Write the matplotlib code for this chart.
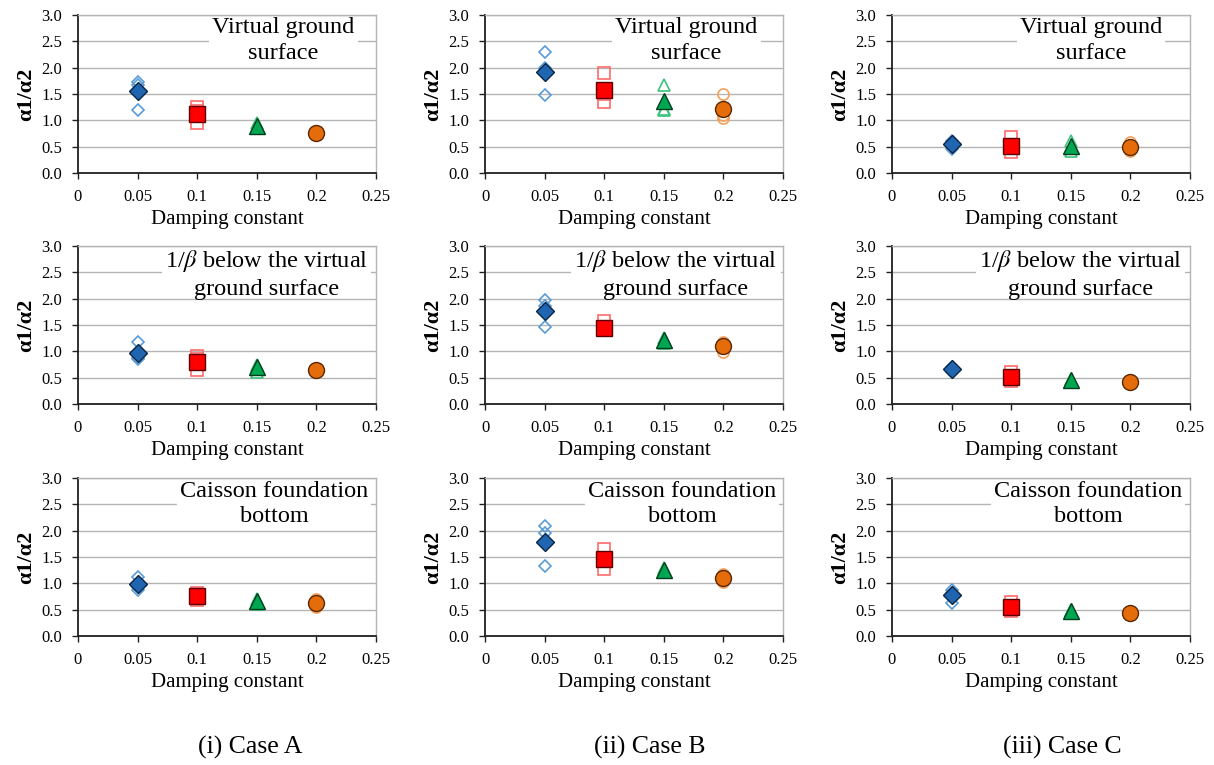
import matplotlib
matplotlib.use("Agg")
import matplotlib.pyplot as plt
from matplotlib.patches import Rectangle

plt.rcParams['font.family'] = ['Liberation Serif', 'DejaVu Serif']
plt.rcParams['mathtext.fontset'] = 'stix'

# ---------------- data ----------------
damping = [0.05, 0.10, 0.15, 0.20]
case_labels = ["(i) Case A", "(ii) Case B", "(iii) Case C"]
position_labels = ["Virtual ground\nsurface",
                   "1/$\\beta$ below the virtual\nground surface",
                   "Caisson foundation\nbottom"]
x_ticks = [0, 0.05, 0.1, 0.15, 0.2, 0.25]
x_tick_labels = ["0", "0.05", "0.1", "0.15", "0.2", "0.25"]
y_ticks = [0.0, 0.5, 1.0, 1.5, 2.0, 2.5, 3.0]

# mean values (filled markers)
mean_A_vgs = [1.55, 1.12, 0.90, 0.76]
mean_B_vgs = [1.92, 1.58, 1.37, 1.22]
mean_C_vgs = [0.56, 0.52, 0.51, 0.50]
mean_A_beta = [0.97, 0.80, 0.70, 0.64]
mean_B_beta = [1.77, 1.45, 1.22, 1.10]
mean_C_beta = [0.66, 0.51, 0.45, 0.41]
mean_A_bot = [0.98, 0.76, 0.66, 0.62]
mean_B_bot = [1.79, 1.46, 1.26, 1.11]
mean_C_bot = [0.78, 0.56, 0.48, 0.43]

# individual values (hollow markers)
ind_A_vgs = [[1.72, 1.68, 1.20], [1.25, 1.18, 0.95], [0.94, 0.90, 0.86], [0.80, 0.76, 0.72]]
ind_B_vgs = [[2.30, 2.00, 1.48], [1.90, 1.50, 1.35], [1.68, 1.22, 1.20], [1.50, 1.10, 1.04]]
ind_C_vgs = [[0.60, 0.58, 0.45], [0.68, 0.50, 0.40], [0.60, 0.50, 0.42], [0.58, 0.50, 0.42]]
ind_A_beta = [[1.18, 0.88, 0.85], [0.92, 0.85, 0.65], [0.75, 0.70, 0.60], [0.68, 0.63, 0.60]]
ind_B_beta = [[1.98, 1.87, 1.47], [1.58, 1.42, 1.40], [1.25, 1.20, 1.15], [1.18, 1.12, 0.99]]
ind_C_beta = [[0.70, 0.65, 0.60], [0.60, 0.50, 0.43], [0.48, 0.44, 0.42], [0.45, 0.40, 0.38]]
ind_A_bot = [[1.12, 0.93, 0.88], [0.82, 0.76, 0.68], [0.70, 0.65, 0.60], [0.70, 0.60, 0.55]]
ind_B_bot = [[2.08, 1.95, 1.33], [1.65, 1.45, 1.27], [1.30, 1.25, 1.22], [1.17, 1.10, 1.02]]
ind_C_bot = [[0.88, 0.82, 0.62], [0.65, 0.55, 0.47], [0.50, 0.48, 0.45], [0.46, 0.43, 0.40]]

means = [[mean_A_vgs, mean_B_vgs, mean_C_vgs],
         [mean_A_beta, mean_B_beta, mean_C_beta],
         [mean_A_bot, mean_B_bot, mean_C_bot]]
inds = [[ind_A_vgs, ind_B_vgs, ind_C_vgs],
        [ind_A_beta, ind_B_beta, ind_C_beta],
        [ind_A_bot, ind_B_bot, ind_C_bot]]

# ---------------- styles ----------------
markers = ['D', 's', '^', 'o']
fill_cols = ['#1F65B0', '#FF0000', '#00A651', '#E46C0A']
edge_cols = ['#0B2545', '#5A0000', '#003D1C', '#5A2800']
hollow_cols = ['#5B9BD5', '#FF6B6B', '#3CC47C', '#F5A05A']
filled_ms = [9.2, 11.5, 12, 11.5]
hollow_ms = [6, 8.5, 8, 8]

W, H = 1214, 765
fig = plt.figure(figsize=(W / 100, H / 100), dpi=100)

col_left = [78, 485, 892]
row_top = [15, 246, 478]
ax_w, ax_h = 298, 158
text_x = [[0.69, 0.676, 0.669], [0.634, 0.641, 0.634], [0.658, 0.661, 0.658]]
text_y = [0.839, 0.825, 0.835]

texts = []
for r in range(3):
    for c in range(3):
        ax = fig.add_axes([col_left[c] / W, (H - row_top[r] - ax_h) / H, ax_w / W, ax_h / H])
        ax.set_xlim(0, 0.25)
        ax.set_ylim(0, 3.0)
        ax.set_xticks(x_ticks)
        ax.set_xticklabels(x_tick_labels)
        ax.set_yticks(y_ticks)
        ax.set_yticklabels([f"{v:.1f}" for v in y_ticks])
        ax.yaxis.grid(True, color='#B4B4B4', linewidth=1.0)
        ax.set_axisbelow(True)
        for s in ['top', 'right']:
            ax.spines[s].set_color('#B4B4B4')
            ax.spines[s].set_linewidth(1.0)
        for s in ['left', 'bottom']:
            ax.spines[s].set_color('#202020')
            ax.spines[s].set_linewidth(1.3)
        ax.tick_params(axis='both', labelsize=12, length=4.3, width=1, color='#202020',
                       direction='out')
        ax.tick_params(axis='y', pad=7)
        ax.tick_params(axis='x', pad=7)
        ax.set_xlabel("Damping constant", fontsize=15, labelpad=3.5)
        ax.set_ylabel("α1/α2", fontsize=16, fontweight='bold', labelpad=4)

        for k in range(4):
            vals = inds[r][c][k]
            ax.plot([damping[k]] * len(vals), vals, linestyle='none', marker=markers[k],
                    markersize=hollow_ms[k], markerfacecolor='none',
                    markeredgecolor=hollow_cols[k], markeredgewidth=1.2, zorder=3)
        for k in range(4):
            ax.plot(damping[k], means[r][c][k], linestyle='none', marker=markers[k],
                    markersize=filled_ms[k], markerfacecolor=fill_cols[k],
                    markeredgecolor=edge_cols[k], markeredgewidth=1.0, zorder=4)

        t = ax.text(text_x[r][c], text_y[r], position_labels[r], transform=ax.transAxes,
                    ha='center', va='center', multialignment='center', fontsize=17.5,
                    linespacing=1.3, zorder=5)
        texts.append((ax, t))

# white background behind each annotation (hides the gridline crossing it)
fig.canvas.draw()
renderer = fig.canvas.get_renderer()
for ax, t in texts:
    bb = t.get_window_extent(renderer)
    inv = ax.transAxes.inverted()
    (x0, y0) = inv.transform((bb.x0 - 3, bb.y0 + 6))
    (x1, y1) = inv.transform((bb.x1 + 3, bb.y1 - 5))
    ax.add_patch(Rectangle((x0, y0), x1 - x0, y1 - y0, transform=ax.transAxes,
                           facecolor='white', edgecolor='none', zorder=2, clip_on=False))

caption_x = [250, 650, 1062]
for c in range(3):
    fig.text(caption_x[c] / W, (H - 747) / H, case_labels[c], ha='center', va='center',
             fontsize=18.5)

fig.savefig("out.png", dpi=100)
